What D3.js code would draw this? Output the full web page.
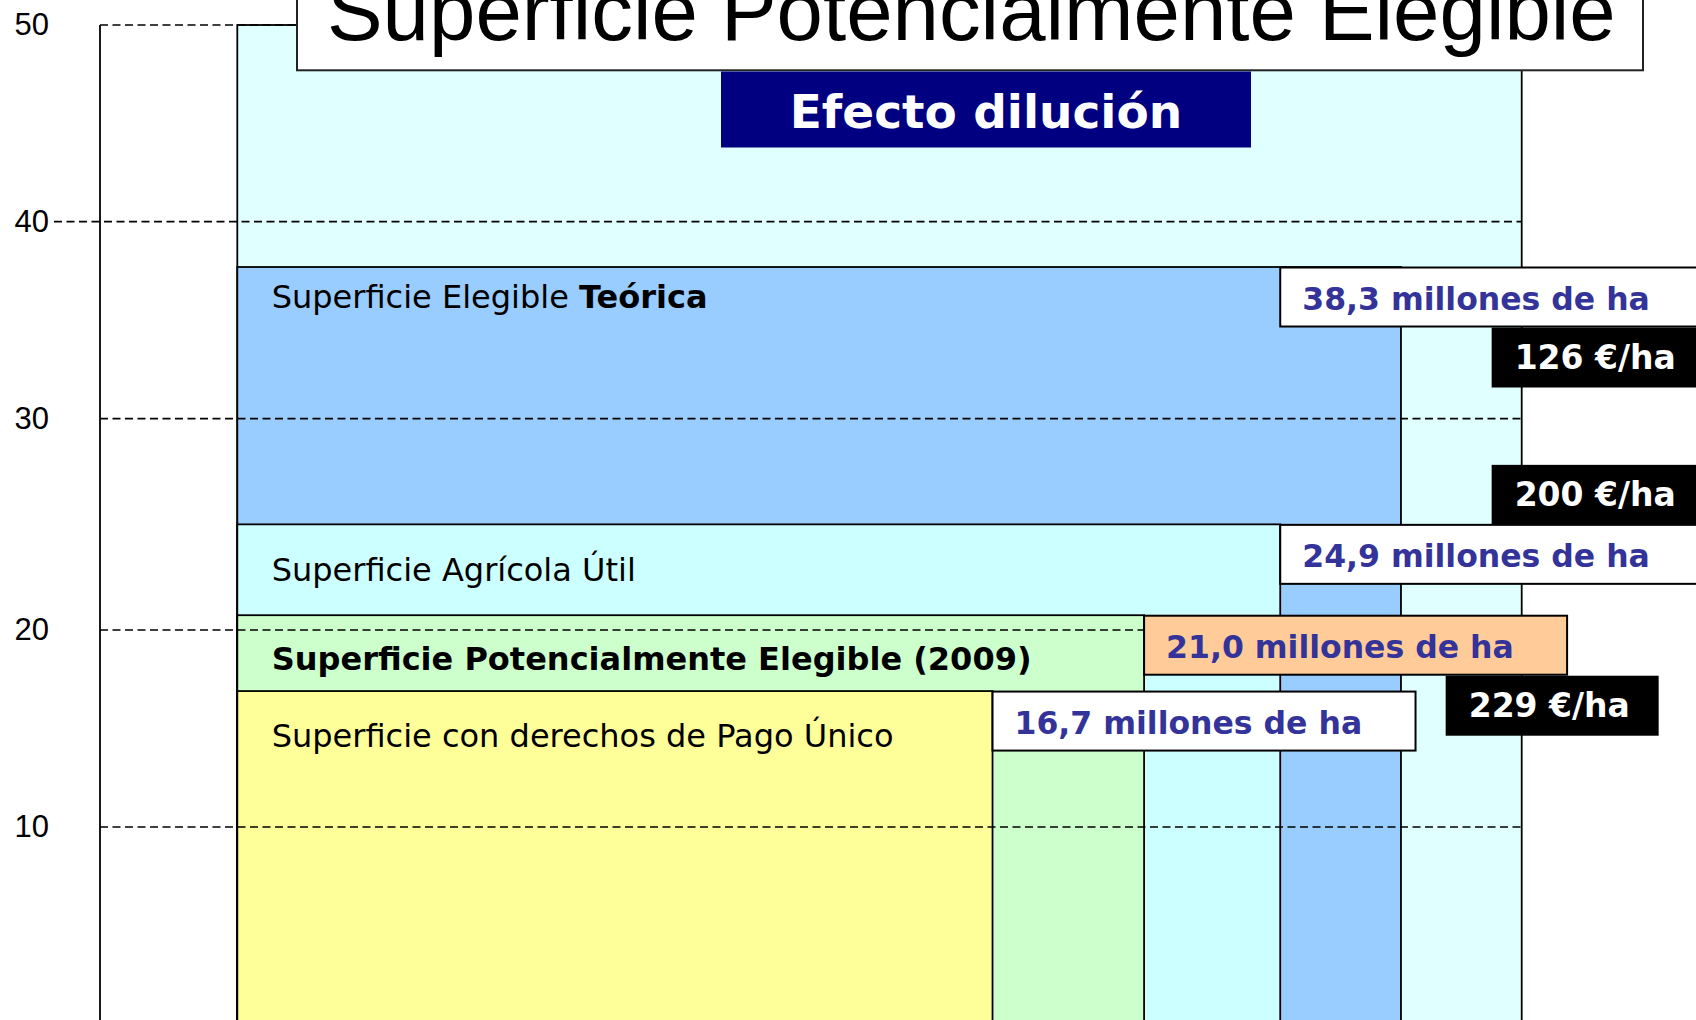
<!DOCTYPE html>
<html>
<head>
<meta charset="utf-8">
<script src="https://cdn.jsdelivr.net/npm/d3@7/dist/d3.min.js"></script>
<style>
  body { margin: 0; background: #fff; }
  svg { display: block; }
</style>
</head>
<body>
<div id="dilucion"></div>
<script>
// nested areas, widest first (millones de ha, as drawn)
let areaValues = [50, 37.7, 25.0, 20.7, 16.9];
// relative widths of each block (outer block = 100)
let areaWidths = [100, 90.6, 81.2, 70.6, 58.8];
// text inside each block: [text, bold]
let areaLabels = [
  [],
  [["Superficie Elegible ", false], ["Teórica", true]],
  [["Superficie Agrícola Útil", false]],
  [["Superficie Potencialmente Elegible (2009)", true]],
  [["Superficie con derechos de Pago Único", false]]
];
let valueLabels = ["38,3 millones de ha", "24,9 millones de ha", "21,0 millones de ha", "16,7 millones de ha"];
let priceLabels = ["126 €/ha", "200 €/ha", "229 €/ha"];
let yTicks = [10, 20, 30, 40, 50];
let title = "Superficie Potencialmente Elegible";
let subtitle = "Efecto dilución";

// styles / layout
let areaColors = ["#e0ffff", "#99ccff", "#ccffff", "#ccffcc", "#ffff99"];
let labelDy = [0, 41, 57, 55, 56];
let valueBoxArea = [1, 2, 3, 4];    // block each value box sits on
let valueBoxCol = [2, 2, 3, 4];     // block whose right edge is the box's left edge
let valueBoxFill = ["#ffffff", "#ffffff", "#ffcc99", "#ffffff"];
let priceBoxOf = [0, 1, 2];         // value box each price box hangs from
let priceBoxSide = ["below", "above", "below"];
let priceBoxX = [97.66, 97.66, 94.08];

function renderDilucion() {
  let W = 1696, H = 1020;
  let bodyFont = "'DejaVu Sans', Verdana, sans-serif";
  let titleFont = "'Liberation Sans', Arial, sans-serif";

  let svg = d3.select("#dilucion")
    .append("svg")
    .attr("width", W)
    .attr("height", H);

  // the source spacing is uneven around 20, so map each tick
  let y = d3.scaleLinear()
    .domain(yTicks)
    .range([827, 630, 418.7, 221.7, 25]);

  let x = d3.scaleLinear()
    .domain([0, 100])
    .range([237.3, 1521.7]);

  // blocks
  svg.append("g")
    .selectAll("rect")
    .data(areaValues)
    .join("rect")
    .attr("x", x(0))
    .attr("y", (d) => y(d))
    .attr("width", (d, i) => x(areaWidths[i]) - x(0))
    .attr("height", (d) => y(0) - y(d))
    .attr("fill", (d, i) => areaColors[i])
    .attr("stroke", "#000")
    .attr("stroke-width", 1.8);

  // vertical axis line
  svg.append("line")
    .attr("x1", 100).attr("x2", 100)
    .attr("y1", y(50)).attr("y2", H + 10)
    .attr("stroke", "#000")
    .attr("stroke-width", 1.8);

  // dashed grid
  svg.append("g")
    .selectAll("line")
    .data(yTicks)
    .join("line")
    .attr("x1", (d) => d === 40 ? 54 : 100)
    .attr("x2", x(100))
    .attr("y1", (d) => y(d))
    .attr("y2", (d) => y(d))
    .attr("stroke", "#000")
    .attr("stroke-width", 1.7)
    .attr("stroke-dasharray", "8,4.5");

  let axis = svg.append("g")
    .attr("transform", "translate(100,0)")
    .call(d3.axisLeft(y).tickValues(yTicks).tickSize(0).tickPadding(51));
  axis.select(".domain").remove();
  axis.selectAll("text")
    .style("font-family", titleFont)
    .style("font-size", "31px")
    .attr("fill", "#000");

  // labels inside blocks
  areaLabels.forEach(function (parts, i) {
    if (!parts.length) return;
    let t = svg.append("text")
      .attr("x", x(0) + 34.4)
      .attr("y", y(areaValues[i]) + labelDy[i])
      .style("font-family", bodyFont)
      .style("font-size", "32px")
      .attr("fill", "#000");
    parts.forEach(function (p) {
      t.append("tspan")
        .attr("font-weight", p[1] ? "bold" : "normal")
        .text(p[0]);
    });
  });

  // value boxes
  let boxW = 423, boxH = 59;
  let valueBoxes = valueLabels.map(function (lab, i) {
    return {
      label: lab,
      x: x(areaWidths[valueBoxCol[i]]),
      y: y(areaValues[valueBoxArea[i]]) + 0.5,
      fill: valueBoxFill[i]
    };
  });

  let vb = svg.append("g")
    .selectAll("g")
    .data(valueBoxes)
    .join("g")
    .attr("transform", (d) => "translate(" + d.x + "," + d.y + ")");
  vb.append("rect")
    .attr("width", boxW)
    .attr("height", boxH)
    .attr("fill", (d) => d.fill)
    .attr("stroke", "#000")
    .attr("stroke-width", 2);
  vb.append("text")
    .attr("x", 22)
    .attr("y", 42)
    .text((d) => d.label)
    .style("font-family", bodyFont)
    .style("font-size", "31.5px")
    .style("font-weight", "bold")
    .attr("fill", "#333399");

  // price boxes
  let priceW = 213, priceH = 60;
  let priceBoxes = priceLabels.map(function (lab, i) {
    let b = valueBoxes[priceBoxOf[i]];
    return {
      label: lab,
      x: x(priceBoxX[i]),
      y: priceBoxSide[i] === "below" ? b.y + boxH + 1 : b.y - priceH
    };
  });

  let pb = svg.append("g")
    .selectAll("g")
    .data(priceBoxes)
    .join("g")
    .attr("transform", (d) => "translate(" + d.x + "," + d.y + ")");
  pb.append("rect")
    .attr("width", priceW)
    .attr("height", priceH)
    .attr("fill", "#000");
  pb.append("text")
    .attr("x", 23)
    .attr("y", 41.5)
    .text((d) => d.label)
    .style("font-family", bodyFont)
    .style("font-size", "33px")
    .style("font-weight", "bold")
    .attr("fill", "#fff");

  // title box (its top runs off the page, as in the source)
  svg.append("rect")
    .attr("x", 297)
    .attr("y", -10)
    .attr("width", 1346)
    .attr("height", 80.3)
    .attr("fill", "#fff")
    .attr("stroke", "#222")
    .attr("stroke-width", 2);
  svg.append("text")
    .attr("x", 327)
    .attr("y", 40)
    .text(title)
    .style("font-family", titleFont)
    .style("font-size", "83.4px")
    .attr("fill", "#000");

  // "Efecto dilución" banner
  svg.append("rect")
    .attr("x", 721)
    .attr("y", 71.5)
    .attr("width", 530)
    .attr("height", 76)
    .attr("fill", "#000080");
  svg.append("text")
    .attr("x", 986)
    .attr("y", 127.7)
    .attr("text-anchor", "middle")
    .text(subtitle)
    .style("font-family", bodyFont)
    .style("font-size", "47px")
    .style("font-weight", "bold")
    .attr("fill", "#fff");
}

renderDilucion();
</script>
</body>
</html>
